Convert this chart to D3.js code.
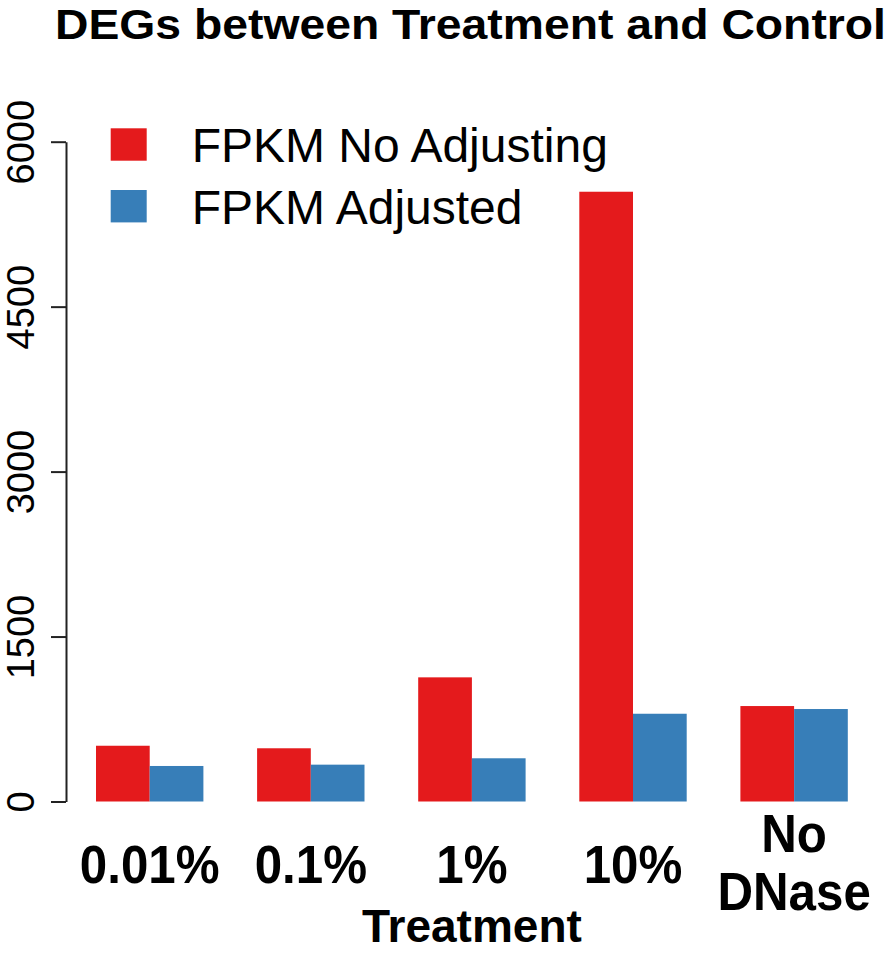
<!DOCTYPE html>
<html>
<head>
<meta charset="utf-8">
<script src="https://cdn.jsdelivr.net/npm/d3@7"></script>
<style>
  html, body { margin: 0; padding: 0; background: #fff; }
  svg { display: block; }
  text { font-family: "Liberation Sans", Arial, Helvetica, sans-serif; fill: #000; }
</style>
</head>
<body>
<svg id="chart" width="893" height="953"></svg>
<script>
// ---- data ----
const categories = ["0.01%", "0.1%", "1%", "10%", "No\nDNase"];
const seriesNames = ["FPKM No Adjusting", "FPKM Adjusted"];
const noAdjusting = [507, 484, 1129, 5545, 868];
const adjusted = [323, 335, 393, 798, 841];
const yTicks = [0, 1500, 3000, 4500, 6000];
const colors = ["#E41A1C", "#377EB8"];
const titleText = "DEGs between Treatment and Control";
const xTitle = "Treatment";

// ---- layout ----
const svg = d3.select("#chart");
const plot = { left: 96, right: 847.8, top: 141.7, bottom: 801.5 };

const y = d3.scaleLinear().domain([0, 6000]).range([plot.bottom, plot.top]);
const x0 = d3.scaleBand().domain(categories).range([plot.left, plot.right])
  .paddingInner(1/3).paddingOuter(0);
const x1 = d3.scaleBand().domain(seriesNames).range([0, x0.bandwidth()]);

const rows = categories.map((c, i) => ({ cat: c, vals: [noAdjusting[i], adjusted[i]] }));

// bars
const g = svg.append("g");
rows.forEach(r => {
  r.vals.forEach((v, j) => {
    g.append("rect")
      .attr("x", x0(r.cat) + x1(seriesNames[j]))
      .attr("y", y(v))
      .attr("width", x1.bandwidth())
      .attr("height", y(0) - y(v))
      .attr("fill", colors[j]);
  });
});

// y axis
const yAxis = d3.axisLeft(y).tickValues(yTicks).tickFormat(d3.format("d"))
  .tickSize(15).tickSizeOuter(0).tickPadding(0);
const ya = svg.append("g").attr("transform", "translate(66,0)").call(yAxis);
ya.select(".domain").attr("stroke", "#222").attr("stroke-width", 2);
ya.selectAll(".tick line").attr("stroke", "#222").attr("stroke-width", 2);
ya.selectAll(".tick text")
  .attr("x", 0).attr("y", 0).attr("dy", 0)
  .attr("transform", "translate(-32,0) rotate(-90)")
  .attr("text-anchor", "middle")
  .style("font-size", "38px")
  .style("fill", "#000");

// x category labels
const xl = svg.append("g");
rows.forEach(r => {
  const lines = r.cat.split("\n");
  const cx = x0(r.cat) + x0.bandwidth() / 2;
  const ys = lines.length === 1 ? [883] : [852, 910];
  lines.forEach((ln, k) => {
    xl.append("text")
      .attr("transform", `translate(${cx},${ys[k]}) scale(0.93,1)`)
      .attr("text-anchor", "middle")
      .style("font-size", "53px")
      .style("font-weight", "bold")
      .text(ln);
  });
});

// x title
svg.append("text")
  .attr("x", (x0.range()[0] + x0.range()[1]) / 2)
  .attr("y", 942)
  .attr("text-anchor", "middle")
  .attr("textLength", 220).attr("lengthAdjust", "spacingAndGlyphs")
  .style("font-size", "46px").style("font-weight", "bold")
  .text(xTitle);

// title
svg.append("text")
  .attr("x", 55).attr("y", 38.5)
  .attr("textLength", 831).attr("lengthAdjust", "spacingAndGlyphs")
  .style("font-size", "42px").style("font-weight", "bold")
  .text(titleText);

// legend
const legend = svg.append("g");
const legY = [128.3, 190];
seriesNames.forEach((s, j) => {
  legend.append("rect")
    .attr("x", 110.7).attr("y", legY[j])
    .attr("width", 36).attr("height", 32.4)
    .attr("fill", colors[j]);
  legend.append("text")
    .attr("x", 191.7).attr("y", legY[j] + 33.5)
    .style("font-size", "48px")
    .text(s);
});
</script>
</body>
</html>
